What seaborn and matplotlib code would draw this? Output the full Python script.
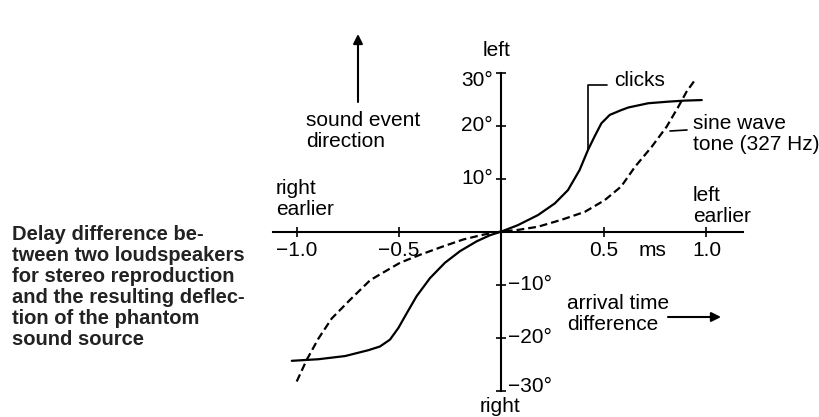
import numpy as np
import pandas as pd
import matplotlib
matplotlib.use('Agg')
import matplotlib.pyplot as plt
import seaborn as sns

# Data: delay difference (ms) vs. deflection (deg)
clicks_ms = [-1.023, -0.893, -0.763, -0.650, -0.593, -0.544, -0.503, -0.462, -0.414,
             -0.349, -0.276, -0.202, -0.121, -0.056, 0.0, 0.080, 0.178, 0.260, 0.324,
             0.381, 0.422, 0.455, 0.487, 0.528, 0.584, 0.619, 0.716, 0.814, 0.895, 0.977]
clicks_deg = [-24.4, -24.1, -23.5, -22.4, -21.7, -20.4, -18.2, -15.4, -12.2,
              -8.8, -5.9, -3.7, -1.85, -0.7, 0.0, 1.2, 3.1, 5.3, 7.8,
              11.6, 15.4, 18.0, 20.4, 22.0, 22.9, 23.4, 24.2, 24.5, 24.7, 24.8]

tone_ms = [-0.999, -0.950, -0.893, -0.828, -0.739, -0.641, -0.593, -0.495, -0.398,
           -0.284, -0.186, -0.089, 0.0, 0.080, 0.178, 0.292, 0.406, 0.503, 0.584,
           0.651, 0.733, 0.806, 0.862, 0.903, 0.944]
tone_deg = [-28.3, -24.2, -20.2, -16.4, -12.9, -9.2, -8.1, -5.9, -4.4,
            -2.8, -1.5, -0.6, 0.0, 0.3, 0.9, 2.2, 3.7, 5.9, 8.5,
            12.2, 16.0, 19.8, 23.5, 26.4, 28.6]

x_ticks = [-1.0, -0.5, 0.5, 1.0]
x_tick_labels = ['\u22121.0', '\u22120.5', '0.5', '1.0']
y_ticks = [-30, -20, -10, 10, 20, 30]

caption = ("Delay difference be-\ntween two loudspeakers\nfor stereo reproduction\n"
           "and the resulting deflec-\ntion of the phantom\nsound source")

clicks = pd.DataFrame({'ms': clicks_ms, 'deg': clicks_deg})
tone = pd.DataFrame({'ms': tone_ms, 'deg': tone_deg})

sns.set_theme(style='white')
plt.rcParams['font.family'] = ['Liberation Sans', 'DejaVu Sans']

# pixel layout of the scanned figure
X0, SX = 501.5, 205.0
Y0, SY = 231.5, 5.3


def px(x, y):
    return (x - X0) / SX, (Y0 - y) / SY


fig = plt.figure(figsize=(8.2, 4.17), dpi=100)
ax = fig.add_axes([0, 0, 1, 1])
ax.set_xlim(px(0, 0)[0], px(820, 0)[0])
ax.set_ylim(px(0, 417)[1], px(0, 0)[1])

sns.lineplot(data=clicks, x='ms', y='deg', ax=ax, color='black', lw=1.6,
             sort=False, estimator=None)
sns.lineplot(data=tone, x='ms', y='deg', ax=ax, color='black', lw=1.6,
             sort=False, estimator=None)
ax.lines[-1].set_dashes((3.5, 1.8))
for ln in ax.lines:
    ln.set_solid_joinstyle('round')

# axes through origin
for s in ['top', 'right']:
    ax.spines[s].set_visible(False)
for s in ['left', 'bottom']:
    ax.spines[s].set_position(('data', 0))
    ax.spines[s].set_linewidth(1.5)
    ax.spines[s].set_color('black')
ax.spines['left'].set_bounds(-30, 30)
ax.spines['bottom'].set_bounds(px(273, 0)[0], px(743, 0)[0])

ax.set_xticks(x_ticks, labels=x_tick_labels)
ax.set_yticks(y_ticks, labels=[])
ax.tick_params(axis='x', direction='inout', length=7, width=1.2, pad=3,
               labelsize=15, colors='black', bottom=True)
ax.tick_params(axis='y', direction='inout', length=7, width=1.2, left=True,
               colors='black')
ax.set_xlabel('')
ax.set_ylabel('')

fs = 15
txt = dict(fontsize=fs, color='black')
ls = 1.16

# y tick labels: positive left of the axis, negative right of it
for v in y_ticks:
    if v > 0:
        yy = v if v < 30 else 28.5
        ax.text(px(493, 0)[0], yy, f'{v}\u00b0', ha='right', va='center', **txt)
    else:
        yy = v if v > -30 else -29.3
        ax.text(px(508, 0)[0], yy, f'\u2212{-v}\u00b0', ha='left', va='center', **txt)

ax.text(*px(497, 50), 'left', ha='center', va='center', **txt)
ax.text(*px(500, 406), 'right', ha='center', va='center', **txt)
ax.text(*px(653, 251), 'ms', ha='center', va='center', **txt)
ax.text(*px(276, 179), 'right\nearlier', ha='left', va='top', linespacing=ls, **txt)
ax.text(*px(693, 186), 'left\nearlier', ha='left', va='top', linespacing=ls, **txt)
ax.text(*px(306, 111), 'sound event\ndirection', ha='left', va='top', linespacing=ls, **txt)
ax.text(*px(693, 114), 'sine wave\ntone (327 Hz)', ha='left', va='top', linespacing=ls, **txt)
ax.text(*px(567, 294), 'arrival time\ndifference', ha='left', va='top', linespacing=ls, **txt)
ax.text(*px(614, 80), 'clicks', ha='left', va='center', **txt)

ax.text(*px(12, 225), caption, ha='left', va='top', fontsize=14.5,
        fontweight='bold', linespacing=1.13, color='#222222')

# arrows
arr = dict(arrowstyle='-|>', color='black', lw=1.5, mutation_scale=14,
           shrinkA=0, shrinkB=0)
ax.annotate('', xy=px(358, 34), xytext=px(358, 102), arrowprops=arr)
ax.annotate('', xy=px(721, 317), xytext=px(668, 317), arrowprops=arr)

# leader lines for the curve labels
lx, ly0 = clicks_ms[20], clicks_deg[20]
ax.plot([lx, lx, px(607, 0)[0]], [ly0, px(0, 85)[1], px(0, 85)[1]],
        color='black', lw=1.2)
ax.plot([px(670, 0)[0], px(687, 0)[0]], [px(0, 131)[1], px(0, 130)[1]],
        color='black', lw=1.2)

fig.savefig('out.png', dpi=100)
